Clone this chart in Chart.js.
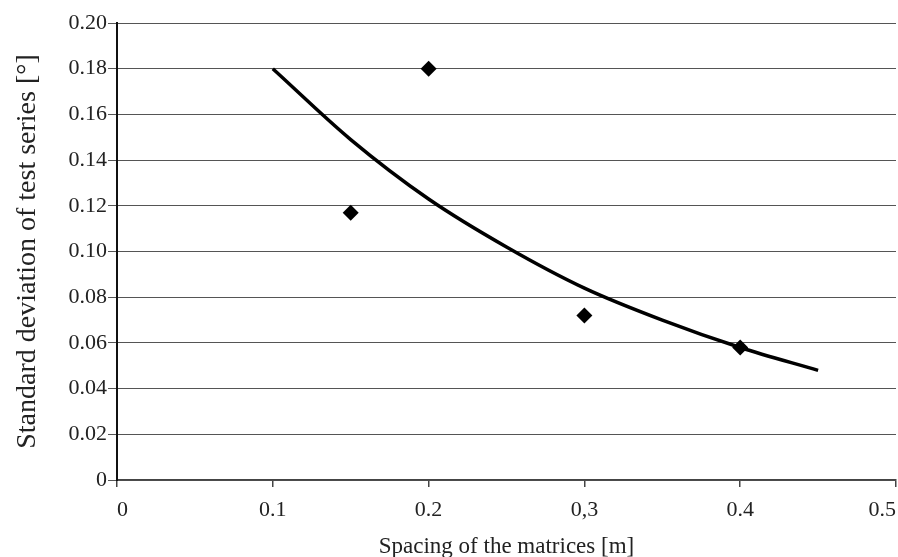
<!DOCTYPE html>
<html lang="en">
<head>
  <meta charset="UTF-8">
  <title>Standard deviation vs spacing</title>
  <script src="https://cdn.jsdelivr.net/npm/chart.js"></script>
  <style>
    body { margin: 0; padding: 0; background: #fff; }
    .chart-box { position: relative; width: 898px; height: 557px; }
  </style>
</head>
<body>
  <div class="chart-box">
    <canvas id="devChart"></canvas>
  </div>

  <script>
    // measured test series
    const spacingX = [0.15, 0.2, 0.3, 0.4];
    const deviationY = [0.117, 0.180, 0.072, 0.058];

    // trend curve
    const trendX = [0.10, 0.15, 0.20, 0.25, 0.30, 0.35, 0.40, 0.45];
    const trendY = [0.180, 0.149, 0.123, 0.102, 0.084, 0.070, 0.058, 0.048];

    const xTickLabels = { 0: '0', 0.1: '0.1', 0.2: '0.2', 0.3: '0,3', 0.4: '0.4', 0.5: '0.5' };

    const serif = "'Liberation Serif', 'DejaVu Serif', serif";

    const ctx = document.getElementById('devChart').getContext('2d');
    new Chart(ctx, {
      type: 'scatter',
      data: {
        datasets: [
          {
            label: 'Test series',
            data: spacingX.map((x, i) => ({ x, y: deviationY[i] })),
            pointStyle: 'rectRot',
            pointRadius: 8,
            backgroundColor: '#000',
            borderColor: '#000',
            borderWidth: 0,
            order: 1
          },
          {
            label: 'Trend',
            data: trendX.map((x, i) => ({ x, y: trendY[i] })),
            showLine: true,
            pointRadius: 0,
            borderColor: '#000',
            borderWidth: 3.5,
            cubicInterpolationMode: 'monotone',
            order: 2
          }
        ]
      },
      options: {
        responsive: true,
        maintainAspectRatio: false,
        animation: false,
        layout: { autoPadding: false, padding: { top: 23, right: 2, left: 0, bottom: 0 } },
        plugins: { legend: { display: false }, tooltip: { enabled: false } },
        scales: {
          x: {
            type: 'linear',
            min: 0,
            max: 0.5,
            afterFit: s => { s.height = 77; s.paddingLeft = 0; s.paddingRight = 0; },
            afterBuildTicks: s => {
              s.ticks = Object.keys(xTickLabels).map(v => ({ value: Number(v) }));
            },
            border: { color: '#444', width: 1.5 },
            grid: { drawOnChartArea: false, drawTicks: true, tickLength: 7, color: '#444', lineWidth: 1.5 },
            ticks: {
              color: '#222',
              font: { family: serif, size: 22 },
              padding: 10,
              maxRotation: 0,
              align: 'inner',
              callback: v => xTickLabels[Math.round(v * 10) / 10]
            },
            title: {
              display: true,
              text: 'Spacing of the matrices [m]',
              color: '#222',
              font: { family: serif, size: 23 },
              padding: { top: 0, bottom: -4 }
            }
          },
          y: {
            min: 0,
            max: 0.2,
            afterFit: s => { s.width = 117; },
            border: { color: '#111', width: 2 },
            grid: { color: '#555', lineWidth: 1, tickLength: 9 },
            ticks: {
              stepSize: 0.02,
              color: '#222',
              font: { family: serif, size: 22 },
              padding: 1,
              callback: v => (Math.abs(v) < 1e-9 ? '0' : v.toFixed(2))
            },
            title: {
              display: true,
              text: 'Standard deviation of test series [°]',
              color: '#222',
              font: { family: serif, size: 28 },
              padding: { top: 11, bottom: 0 }
            }
          }
        }
      }
    });
  </script>
</body>
</html>
